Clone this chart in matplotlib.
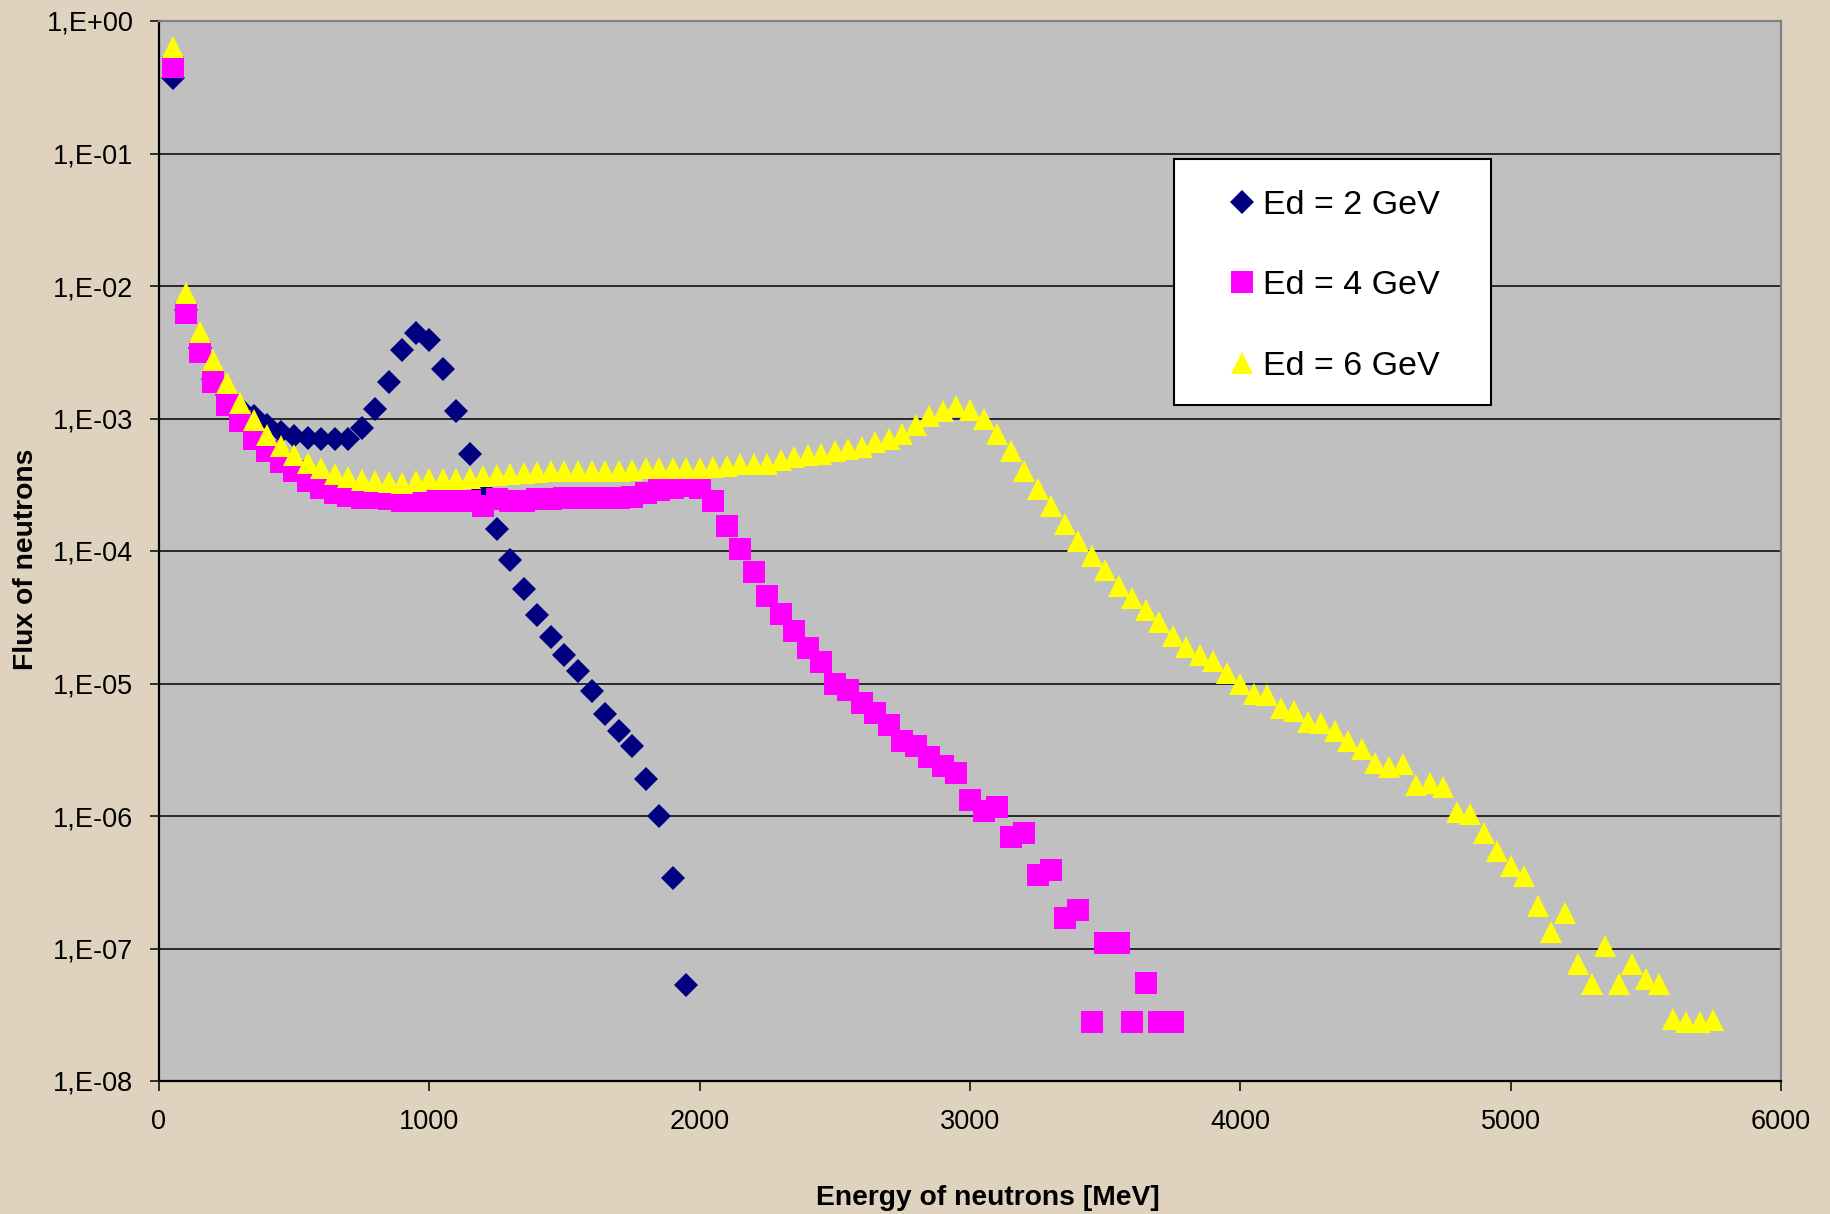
import matplotlib
matplotlib.use("Agg")
import matplotlib.pyplot as plt
from matplotlib.ticker import FixedLocator, FuncFormatter, NullLocator
from matplotlib.patches import Rectangle
import numpy as np

plt.rcParams['font.family'] = ['Liberation Sans', 'DejaVu Sans']

# energy bins [MeV], 50 MeV wide
energy = [50, 100, 150, 200, 250, 300, 350, 400, 450, 500,
          550, 600, 650, 700, 750, 800, 850, 900, 950, 1000,
          1050, 1100, 1150, 1200, 1250, 1300, 1350, 1400, 1450, 1500,
          1550, 1600, 1650, 1700, 1750, 1800, 1850, 1900, 1950, 2000,
          2050, 2100, 2150, 2200, 2250, 2300, 2350, 2400, 2450, 2500,
          2550, 2600, 2650, 2700, 2750, 2800, 2850, 2900, 2950, 3000,
          3050, 3100, 3150, 3200, 3250, 3300, 3350, 3400, 3450, 3500,
          3550, 3600, 3650, 3700, 3750, 3800, 3850, 3900, 3950, 4000,
          4050, 4100, 4150, 4200, 4250, 4300, 4350, 4400, 4450, 4500,
          4550, 4600, 4650, 4700, 4750, 4800, 4850, 4900, 4950, 5000,
          5050, 5100, 5150, 5200, 5250, 5300, 5350, 5400, 5450, 5500,
          5550, 5600, 5650, 5700, 5750]

# Ed = 2 GeV
flux_2gev = [0.37, 6.6e-3, 3.4e-3, 2.0e-3, 1.5e-3, 1.2e-3, 1.05e-3, 9.0e-4, 7.9e-4, 7.4e-4,
             7.1e-4, 7.0e-4, 7.0e-4, 7.0e-4, 8.5e-4, 1.18e-3, 1.9e-3, 3.3e-3, 4.4e-3, 3.9e-3,
             2.35e-3, 1.13e-3, 5.4e-4, 2.9e-4, 1.46e-4, 8.5e-5, 5.2e-5, 3.3e-5, 2.24e-5, 1.65e-5,
             1.24e-5, 8.8e-6, 5.85e-6, 4.4e-6, 3.4e-6, 1.9e-6, 1.0e-6, 3.4e-7, 5.3e-8]

# Ed = 4 GeV
flux_4gev = [0.45, 6.3e-3, 3.2e-3, 1.9e-3, 1.26e-3, 9.6e-4, 7.0e-4, 5.7e-4, 4.7e-4, 4.0e-4,
             3.4e-4, 3.0e-4, 2.75e-4, 2.6e-4, 2.5e-4, 2.5e-4, 2.45e-4, 2.4e-4, 2.4e-4, 2.4e-4,
             2.4e-4, 2.4e-4, 2.4e-4, 2.2e-4, 2.45e-4, 2.4e-4, 2.4e-4, 2.45e-4, 2.45e-4, 2.5e-4,
             2.5e-4, 2.5e-4, 2.5e-4, 2.5e-4, 2.55e-4, 2.75e-4, 2.9e-4, 3.0e-4, 3.1e-4, 3.0e-4,
             2.37e-4, 1.55e-4, 1.04e-4, 6.9e-5, 4.6e-5, 3.35e-5, 2.5e-5, 1.85e-5, 1.46e-5, 1.0e-5,
             8.9e-6, 7.1e-6, 6.0e-6, 4.9e-6, 3.7e-6, 3.4e-6, 2.8e-6, 2.4e-6, 2.1e-6, 1.31e-6,
             1.1e-6, 1.17e-6, 6.9e-7, 7.4e-7, 3.6e-7, 3.9e-7, 1.7e-7, 1.95e-7, 2.8e-8, 1.1e-7,
             1.1e-7, 2.8e-8, 5.5e-8, 2.8e-8, 2.8e-8]

# Ed = 6 GeV
flux_6gev = [0.64, 8.9e-3, 4.5e-3, 2.75e-3, 1.86e-3, 1.3e-3, 9.8e-4, 7.5e-4, 6.2e-4, 5.3e-4,
             4.65e-4, 4.2e-4, 3.8e-4, 3.6e-4, 3.45e-4, 3.35e-4, 3.3e-4, 3.25e-4, 3.4e-4, 3.5e-4,
             3.5e-4, 3.5e-4, 3.55e-4, 3.7e-4, 3.75e-4, 3.8e-4, 3.87e-4, 3.96e-4, 4.0e-4, 4.0e-4,
             4.0e-4, 4.0e-4, 4.0e-4, 4.0e-4, 4.1e-4, 4.2e-4, 4.25e-4, 4.25e-4, 4.25e-4, 4.25e-4,
             4.3e-4, 4.4e-4, 4.5e-4, 4.5e-4, 4.5e-4, 4.85e-4, 5.1e-4, 5.3e-4, 5.4e-4, 5.7e-4,
             5.9e-4, 6.05e-4, 6.6e-4, 7.05e-4, 7.7e-4, 8.9e-4, 1.04e-3, 1.14e-3, 1.25e-3, 1.16e-3,
             1.0e-3, 7.6e-4, 5.67e-4, 4.0e-4, 2.96e-4, 2.2e-4, 1.6e-4, 1.19e-4, 9.1e-5, 7.2e-5,
             5.4e-5, 4.4e-5, 3.6e-5, 2.9e-5, 2.3e-5, 1.88e-5, 1.65e-5, 1.47e-5, 1.2e-5, 1.0e-5,
             8.4e-6, 8.2e-6, 6.5e-6, 6.2e-6, 5.15e-6, 5.0e-6, 4.35e-6, 3.7e-6, 3.2e-6, 2.5e-6,
             2.35e-6, 2.45e-6, 1.7e-6, 1.78e-6, 1.65e-6, 1.07e-6, 1.03e-6, 7.4e-7, 5.4e-7, 4.2e-7,
             3.5e-7, 2.1e-7, 1.33e-7, 1.86e-7, 7.7e-8, 5.4e-8, 1.05e-7, 5.4e-8, 7.7e-8, 5.9e-8,
             5.4e-8, 2.95e-8, 2.8e-8, 2.8e-8, 2.9e-8]

labels = ['Ed = 2 GeV', 'Ed = 4 GeV', 'Ed = 6 GeV']
x_ticks = [0, 1000, 2000, 3000, 4000, 5000, 6000]
y_ticks = [1e-8, 1e-7, 1e-6, 1e-5, 1e-4, 1e-3, 1e-2, 1e-1, 1e0]

W, H = 1831, 1214
fig = plt.figure(figsize=(W / 100, H / 100), dpi=100)
fig.patch.set_facecolor('#DFD3C0')

# plot area in pixels: x 159..1781, y 21..1081
ax = fig.add_axes([159 / W, 1 - 1081 / H, 1622 / W, 1060 / H])
ax.set_facecolor('#C0C0C0')

series = [
    (flux_2gev, 'D', 12.2, '#000080'),
    (flux_4gev, 's', 15.8, '#FF00FF'),
    (flux_6gev, '^', 16.5, '#FFFF00'),
]
handles = []
for (vals, mk, ms, col), lab in zip(series, labels):
    h, = ax.plot(energy[:len(vals)], vals, linestyle='none', marker=mk, markersize=ms,
                 markerfacecolor=col, markeredgewidth=0, label=lab, zorder=3)
    handles.append(h)

ax.set_yscale('log')
ax.set_xlim(0, 6000)
ax.set_ylim(1e-8, 1e0)

ax.xaxis.set_major_locator(FixedLocator(x_ticks))
ax.yaxis.set_major_locator(FixedLocator(y_ticks))
ax.yaxis.set_minor_locator(NullLocator())
ax.xaxis.set_minor_locator(NullLocator())


def sci_comma(v, pos):
    e = int(round(np.log10(v)))
    return '1,E' + format(e, '+03d')


ax.yaxis.set_major_formatter(FuncFormatter(sci_comma))
ax.tick_params(axis='y', direction='out', length=6.5, width=1.1, pad=12, labelsize=19.5)
ax.tick_params(axis='x', direction='out', length=7, width=1.1, pad=13, labelsize=19.5)

ax.grid(True, axis='y', color='black', linewidth=1.1, zorder=1)
ax.set_axisbelow(True)

for side in ['left', 'bottom']:
    ax.spines[side].set_color('black')
    ax.spines[side].set_linewidth(1.6)
for side in ['top', 'right']:
    ax.spines[side].set_color('#808080')
    ax.spines[side].set_linewidth(1.6)

# legend box (white, black border), entries placed inside
ax_w, ax_h = 1622, 1060
bx0, bx1, by0, by1 = 1174, 1491, 159, 405
ax.add_patch(Rectangle(((bx0 - 159) / ax_w, 1 - (by1 - 21) / ax_h),
                       (bx1 - bx0) / ax_w, (by1 - by0) / ax_h,
                       transform=ax.transAxes, facecolor='white', edgecolor='black',
                       linewidth=1.5, zorder=5))
leg = ax.legend(handles=handles, loc='upper left',
                bbox_to_anchor=((1225 - 159) / ax_w, 1 - (190 - 21) / ax_h),
                frameon=False, fontsize=24.5, borderpad=0, borderaxespad=0,
                handlelength=1.0, handletextpad=0.12, labelspacing=1.45,
                numpoints=1)
leg.set_zorder(6)

fig.text(988 / W, 1 - 1205 / H, 'Energy of neutrons [MeV]', ha='center', va='baseline',
         fontsize=20.3, fontweight='bold')
fig.text(26 / W, 1 - 559 / H, 'Flux of neutrons', ha='center', va='center',
         rotation=90, fontsize=20.3, fontweight='bold')

fig.savefig('out.png', dpi=100, facecolor=fig.get_facecolor())
